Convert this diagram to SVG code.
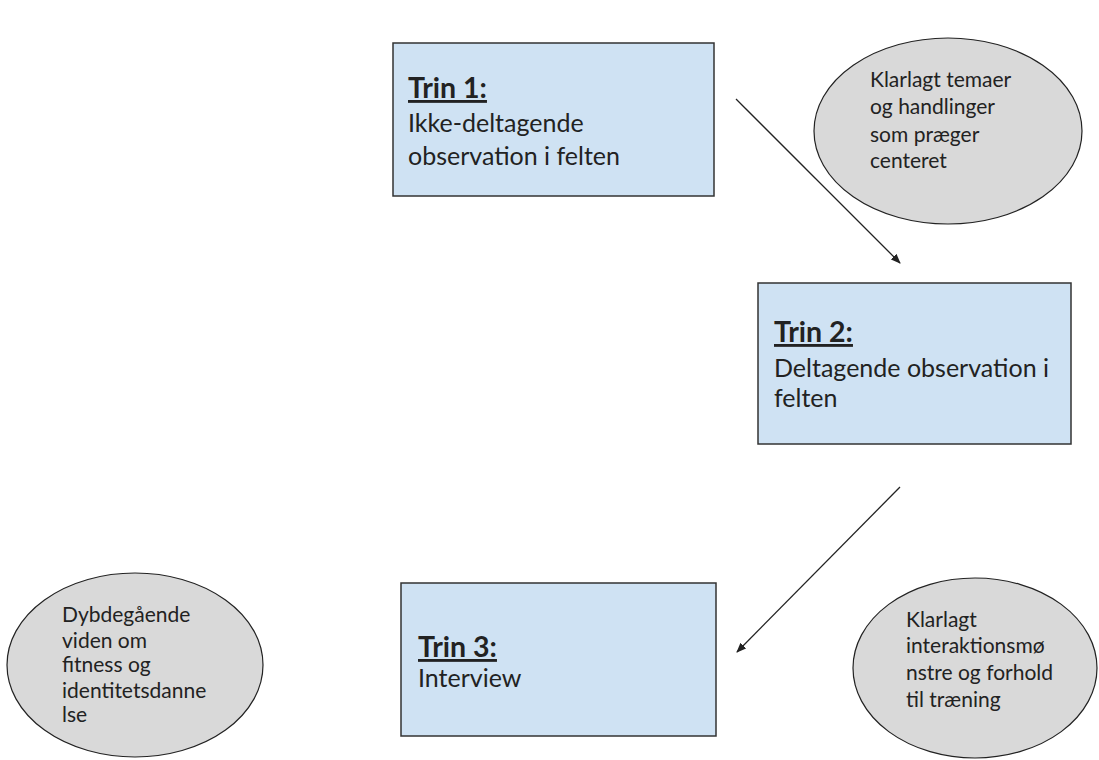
<svg xmlns="http://www.w3.org/2000/svg" width="1099" height="760" viewBox="0 0 1099 760">
<style>
.box{fill:#cfe2f3;stroke:#333;stroke-width:1.5}
.ell{fill:#d9d9d9;stroke:#222;stroke-width:1.2}
.t{font-family:Lato,"Open Sans",sans-serif;fill:#222}
.h{font-size:28.5px;font-weight:bold;text-decoration:underline}
.b{font-size:25px}
.e{font-size:21px}
.c{stroke:#222;stroke-width:1.3;fill:none;marker-end:url(#ah)}
</style>
<defs>
<marker id="ah" markerWidth="10" markerHeight="8" refX="9" refY="4" orient="auto" markerUnits="userSpaceOnUse">
<path d="M0,0 L10,4 L0,8 Z" fill="#222"/>
</marker>
</defs>
<rect width="1099" height="760" fill="#fff"/>
<g id="connectors">
<line class="c" x1="736" y1="99" x2="900" y2="263"/>
<line class="c" x1="900" y1="487" x2="737" y2="652"/>
</g>
<g id="trin1">
<rect class="box" x="393" y="43" width="321" height="153"/>
<text class="t h" x="408" y="98">Trin 1:</text>
<text class="t b" x="408" y="132">Ikke-deltagende</text>
<text class="t b" x="408" y="165">observation i felten</text>
</g>
<g id="trin2">
<rect class="box" x="758" y="283" width="313" height="161"/>
<text class="t h" x="774" y="342">Trin 2:</text>
<text class="t b" x="774" y="377">Deltagende observation i</text>
<text class="t b" x="774" y="407">felten</text>
</g>
<g id="trin3">
<rect class="box" x="401" y="583" width="315" height="153"/>
<text class="t h" x="418" y="657">Trin 3:</text>
<text class="t b" x="418" y="687">Interview</text>
</g>
<g id="ell1">
<ellipse class="ell" cx="948" cy="131" rx="134" ry="93"/>
<text class="t e" x="870" y="87">Klarlagt temaer</text>
<text class="t e" x="870" y="114">og handlinger</text>
<text class="t e" x="870" y="142">som præger</text>
<text class="t e" x="870" y="168">centeret</text>
</g>
<g id="ell2">
<ellipse class="ell" cx="135" cy="665" rx="128" ry="92"/>
<text class="t e" x="62" y="622">Dybdegående</text>
<text class="t e" x="62" y="648">viden om</text>
<text class="t e" x="62" y="672">fitness og</text>
<text class="t e" x="62" y="698">identitetsdanne</text>
<text class="t e" x="62" y="722">lse</text>
</g>
<g id="ell3">
<ellipse class="ell" cx="975" cy="668" rx="122" ry="90"/>
<text class="t e" x="906" y="627">Klarlagt</text>
<text class="t e" x="906" y="653">interaktionsmø</text>
<text class="t e" x="906" y="680">nstre og forhold</text>
<text class="t e" x="906" y="707">til træning</text>
</g>
</svg>
